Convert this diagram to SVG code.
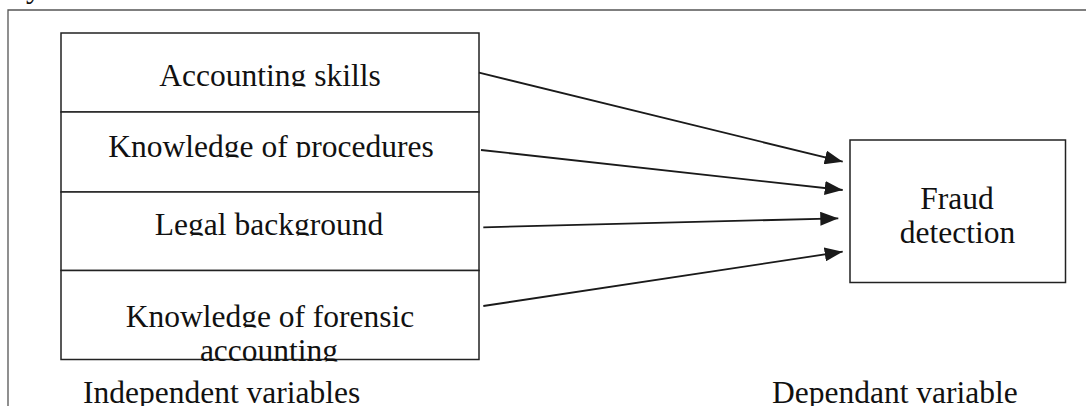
<svg xmlns="http://www.w3.org/2000/svg" width="1086" height="406" viewBox="0 0 1086 406">
  <style>
    .box { fill: #ffffff; stroke: #222222; stroke-width: 1.5; }
    .frame { fill: none; stroke: #555555; stroke-width: 1.3; }
    .lbl { font-family: "Liberation Serif", "Times New Roman", serif; font-size: 31.5px; fill: #111111; text-anchor: middle; }
    .cap { font-family: "Liberation Serif", "Times New Roman", serif; font-size: 31.5px; fill: #111111; }
    .conn { stroke: #1a1a1a; stroke-width: 1.8; fill: none; }
  </style>
  <defs>
    <marker id="arrow" viewBox="0 0 10 10" refX="10" refY="5" markerWidth="10" markerHeight="7.5" markerUnits="userSpaceOnUse" orient="auto">
      <path d="M0,0 L10,5 L0,10 Z" fill="#1a1a1a"/>
    </marker>
    <marker id="arrowhead" viewBox="0 0 18 14" refX="18" refY="7" markerWidth="18" markerHeight="14" markerUnits="userSpaceOnUse" orient="auto">
      <path d="M0,0 L18,7 L0,14 Z" fill="#1a1a1a"/>
    </marker>
    <clipPath id="c1"><rect x="60" y="30" width="420" height="56.5"/></clipPath>
    <clipPath id="c2"><rect x="60" y="112" width="420" height="45.5"/></clipPath>
    <clipPath id="c3"><rect x="60" y="192" width="420" height="43.8"/></clipPath>
    <clipPath id="c4"><rect x="60" y="271" width="420" height="56.5"/></clipPath>
    <clipPath id="c5"><rect x="60" y="330" width="420" height="31.5"/></clipPath>
  </defs>

  <text class="cap" x="26" y="-3">y</text>
  <path class="frame" d="M8,406 L8,10 L1086,10"/>

  <g id="node-accounting-skills">
    <rect class="box" x="61" y="33" width="418" height="79"/>
    <text class="lbl" x="270" y="85.5" clip-path="url(#c1)">Accounting skills</text>
  </g>
  <g id="node-knowledge-procedures">
    <rect class="box" x="61" y="112" width="418" height="80"/>
    <text class="lbl" x="271" y="156.5" clip-path="url(#c2)">Knowledge of procedures</text>
  </g>
  <g id="node-legal-background">
    <rect class="box" x="61" y="192" width="418" height="78.5"/>
    <text class="lbl" x="269" y="235" clip-path="url(#c3)">Legal background</text>
  </g>
  <g id="node-forensic-accounting">
    <rect class="box" x="61" y="270.5" width="418" height="89"/>
    <text class="lbl" x="270" y="326.5" clip-path="url(#c4)">Knowledge of forensic</text>
    <text class="lbl" x="269" y="360.5" clip-path="url(#c5)">accounting</text>
  </g>

  <g id="node-fraud-detection">
    <rect class="box" x="850" y="140" width="215.5" height="142.5"/>
    <text class="lbl" x="957" y="209">Fraud</text>
    <text class="lbl" x="957.5" y="243">detection</text>
  </g>

  <g id="connectors">
    <line class="conn" x1="479" y1="72.7" x2="842.7" y2="161.7" marker-end="url(#arrowhead)"/>
    <line class="conn" x1="481" y1="150" x2="842.7" y2="190" marker-end="url(#arrowhead)"/>
    <line class="conn" x1="483.3" y1="227.3" x2="838.3" y2="218.3" marker-end="url(#arrowhead)"/>
    <line class="conn" x1="483.3" y1="306" x2="842.7" y2="251.7" marker-end="url(#arrowhead)"/>
  </g>

  <g id="captions">
    <text class="cap" x="83" y="403">Independent variables</text>
    <text class="cap" x="772" y="403">Dependant variable</text>
  </g>
</svg>
